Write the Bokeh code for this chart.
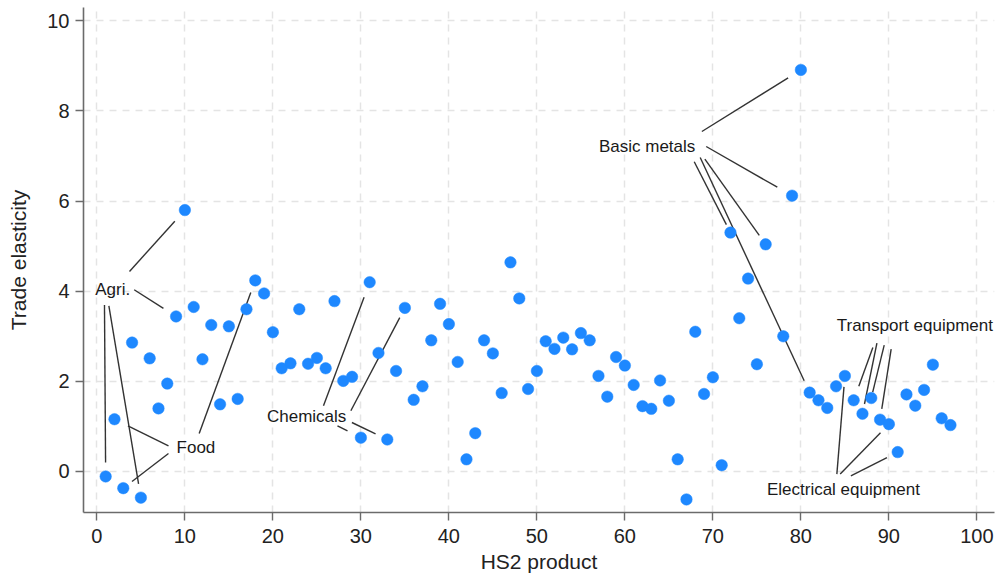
import math
from bokeh.plotting import figure
from bokeh.models import ColumnDataSource, FixedTicker, LabelSet, Range1d
from bokeh.core.properties import value
from bokeh.embed import file_html
from bokeh.resources import INLINE

# ---------------- data ----------------
hs2 = list(range(1, 77)) + list(range(78, 98))
elasticity = [
    -0.11, 1.16, -0.37, 2.86, -0.58, 2.51, 1.40, 1.95, 3.44, 5.80,   # 1-10
    3.65, 2.49, 3.25, 1.49, 3.22, 1.61, 3.60, 4.24, 3.95, 3.09,      # 11-20
    2.29, 2.40, 3.60, 2.39, 2.52, 2.29, 3.78, 2.01, 2.10, 0.75,      # 21-30
    4.20, 2.63, 0.71, 2.23, 3.63, 1.59, 1.89, 2.91, 3.72, 3.27,      # 31-40
    2.43, 0.27, 0.85, 2.91, 2.62, 1.74, 4.64, 3.84, 1.83, 2.23,      # 41-50
    2.89, 2.72, 2.97, 2.71, 3.07, 2.91, 2.12, 1.66, 2.54, 2.35,      # 51-60
    1.92, 1.45, 1.39, 2.02, 1.57, 0.27, -0.62, 3.10, 1.72, 2.09,     # 61-70
    0.14, 5.30, 3.40, 4.28, 2.38, 5.04,                              # 71-76
    3.00, 6.12, 8.91, 1.75, 1.58, 1.41, 1.89, 2.12, 1.58, 1.28,      # 78-87
    1.63, 1.15, 1.05, 0.43, 1.71, 1.46, 1.81, 2.37, 1.18, 1.03,      # 88-97
]

x_ticks = [0, 10, 20, 30, 40, 50, 60, 70, 80, 90, 100]
y_ticks = [0, 2, 4, 6, 8, 10]

# group labels (anchor = centre x, baseline y)
label_names = ["Agri.", "Food", "Chemicals", "Basic metals",
               "Transport equipment", "Electrical equipment"]
label_x = [1.80, 11.26, 23.84, 62.53, 92.95, 84.84]
label_y = [3.914, 0.40, 1.087, 7.078, 3.107, -0.517]

# leader lines: start point near the label, pointing to a product code
leader_target = [10, 9, 1, 5, 2, 3, 18, 31, 35, 30, 33,
                 80, 79, 72, 76, 81, 86, 87, 88, 89, 85, 90, 91]
leader_x0 = [3.705, 4.239, 0.864, 1.364, 8.136, 8.136, 11.625,
             25.75, 28.86, 27.34, 28.98,
             68.75, 69.24, 67.88, 69.09, 68.56,
             88.18, 88.64, 89.47, 90.26,
             84.09, 84.47, 85.68]
leader_y0 = [4.438, 4.032, 3.692, 3.677, 0.570, 0.399, 0.843,
             1.458, 1.347, 1.014, 1.087,
             7.544, 7.211, 6.872, 6.931, 6.967,
             2.751, 2.849, 2.805, 2.716,
             -0.058, -0.058, -0.095]
leader_gap_px = [15, 15, 14, 14, 15, 11, 13, 16, 11, 15, 13,
                 15, 17, 9, 11, 13, 15, 10, 6, 11, 11, 12, 12]

# ---------------- layout ----------------
W, H = 996, 579
B_LEFT, B_RIGHT, B_TOP, B_BOTTOM = 83, 2, 7, 67
frame_w = W - B_LEFT - B_RIGHT
frame_h = H - B_TOP - B_BOTTOM
x0, y0 = -1.52, -0.91
sx, sy = 8.8, 45.07
x1 = x0 + frame_w / sx
y1 = y0 + frame_h / sy

p = figure(width=W, height=H, output_backend="svg", toolbar_location=None,
           x_range=Range1d(x0, x1), y_range=Range1d(y0, y1),
           min_border_left=B_LEFT, min_border_right=B_RIGHT,
           min_border_top=B_TOP, min_border_bottom=B_BOTTOM)
p.outline_line_color = None
p.background_fill_color = "white"
p.border_fill_color = "white"

FONT = "Liberation Sans"
for ax in (p.xaxis[0], p.yaxis[0]):
    ax.axis_line_color = "#6b6b6b"
    ax.axis_line_width = 1.6
    ax.major_tick_line_color = "#6b6b6b"
    ax.major_tick_line_width = 1.4
    ax.major_tick_out = 8
    ax.major_tick_in = 0
    ax.minor_tick_line_color = None
    ax.major_label_text_font = FONT
    ax.major_label_text_font_size = "20px"
    ax.major_label_text_color = "#222222"
    ax.axis_label_text_font = FONT
    ax.axis_label_text_font_size = "21px"
    ax.axis_label_text_font_style = "normal"
    ax.axis_label_text_color = "#222222"

p.xaxis[0].ticker = FixedTicker(ticks=x_ticks)
p.yaxis[0].ticker = FixedTicker(ticks=y_ticks)
p.xaxis[0].axis_label = "HS2 product"
p.yaxis[0].axis_label = "Trade elasticity"
p.xaxis[0].major_label_standoff = 8
p.yaxis[0].major_label_standoff = 6
p.xaxis[0].axis_label_standoff = 4
p.yaxis[0].axis_label_standoff = 14

for g in (p.xgrid[0], p.ygrid[0]):
    g.grid_line_color = "#e4e4e4"
    g.grid_line_width = 1.5
    g.grid_line_dash = "7 6"
p.xgrid[0].ticker = FixedTicker(ticks=x_ticks)
p.ygrid[0].ticker = FixedTicker(ticks=y_ticks)

# leader line geometry (shortened before the target point)
value_of = dict(zip(hs2, elasticity))
lx0, ly0, lx1, ly1 = [], [], [], []
for t, sx0, sy0, gap in zip(leader_target, leader_x0, leader_y0, leader_gap_px):
    tx, ty = t, value_of[t]
    dxp, dyp = (tx - sx0) * sx, (ty - sy0) * sy
    L = math.hypot(dxp, dyp)
    f = (L - gap) / L
    lx0.append(sx0)
    ly0.append(sy0)
    lx1.append(sx0 + (tx - sx0) * f)
    ly1.append(sy0 + (ty - sy0) * f)

p.segment(x0=lx0, y0=ly0, x1=lx1, y1=ly1, line_color="#333333", line_width=1.4)

src = ColumnDataSource(dict(x=hs2, y=elasticity))
p.scatter("x", "y", source=src, size=11.5, fill_color="#1e88ff",
          line_color="#1e88ff", line_width=0.5)

lab_src = ColumnDataSource(dict(x=label_x, y=label_y, text=label_names))
labels = LabelSet(x="x", y="y", text="text", source=lab_src,
                  text_align="center", text_baseline="alphabetic",
                  text_font=value(FONT), text_font_size=value("17px"),
                  text_color="#1a1a1a")
p.add_layout(labels)

open("out.html", "w").write(file_html(p, INLINE))
